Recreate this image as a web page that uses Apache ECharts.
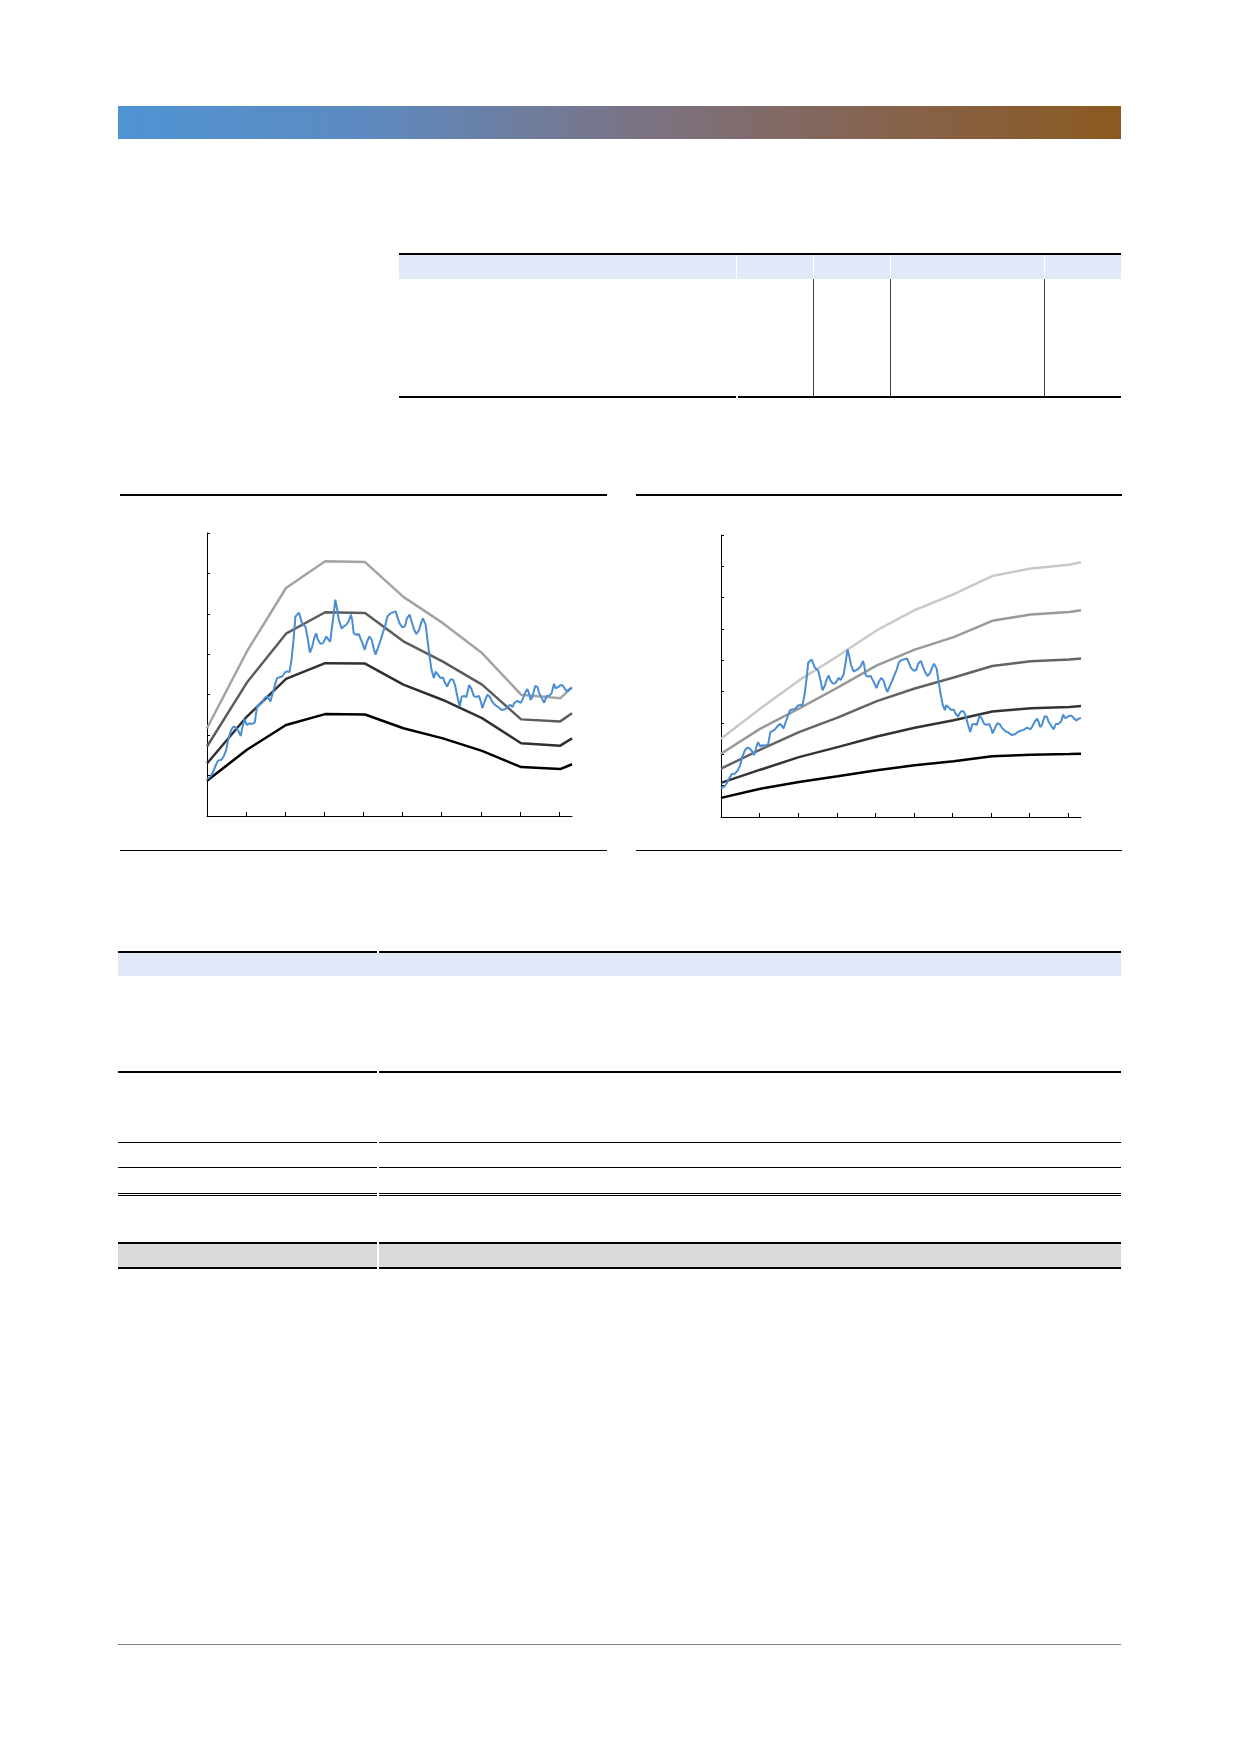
<!DOCTYPE html>
<html>
<head>
<meta charset="utf-8">
<script src="https://cdn.jsdelivr.net/npm/echarts@6.0.0/dist/echarts.min.js"></script>
<style>
  html, body { margin: 0; padding: 0; background: #fff; }
  .page { position: relative; width: 1240px; height: 1754px; overflow: hidden; }
  .box { position: absolute; }
</style>
</head>
<body>
<div class="page" id="page">
  <!-- header band -->
  <div class="box" style="left:118px;top:106px;width:1003px;height:33px;
       background:linear-gradient(to right,#4f93d3 0%,#5d8ac0 25%,#7b7384 52%,#86634f 76%,#8b5a20 100%)"></div>

  <!-- top table -->
  <div class="box" style="left:399px;top:253px;width:722px;height:2px;background:#000"></div>
  <div class="box" style="left:399px;top:255px;width:722px;height:24px;background:#e1e9f8"></div>
  <div class="box" style="left:736px;top:255px;width:1px;height:24px;background:#fff"></div>
  <div class="box" style="left:813px;top:255px;width:1px;height:24px;background:#fff"></div>
  <div class="box" style="left:890px;top:255px;width:1px;height:24px;background:#fff"></div>
  <div class="box" style="left:1044px;top:255px;width:1px;height:24px;background:#fff"></div>
  <div class="box" style="left:813px;top:279px;width:1px;height:117px;background:#404040"></div>
  <div class="box" style="left:890px;top:279px;width:1px;height:117px;background:#404040"></div>
  <div class="box" style="left:1044px;top:279px;width:1px;height:117px;background:#404040"></div>
  <div class="box" style="left:399px;top:396px;width:337px;height:2px;background:#000"></div>
  <div class="box" style="left:738px;top:396px;width:383px;height:2px;background:#000"></div>

  <!-- chart frames -->
  <div class="box" style="left:120px;top:494px;width:487px;height:2px;background:#000"></div>
  <div class="box" style="left:120px;top:850px;width:487px;height:1px;background:#000"></div>
  <div class="box" style="left:636px;top:494px;width:486px;height:2px;background:#000"></div>
  <div class="box" style="left:636px;top:850px;width:486px;height:1px;background:#000"></div>

  <!-- footer rule -->
  <div class="box" style="left:118px;top:1644px;width:1003px;height:1px;background:#808080"></div>

  <div id="chart" class="box" style="left:0;top:0;width:1240px;height:1754px"></div>
</div>

<script>
// x positions of the reference band vertices
const bandX = [0, 10.2, 20.2, 30.2, 40.4, 50.2, 60.3, 70.3, 80.3, 90.3, 93.3];

// left chart bands (top to bottom)
const leftBand1 = [21.7, 40.7, 56.4, 63.0, 62.8, 54.2, 47.7, 40.3, 30.0, 29.1, 31.9];
const leftBand2 = [17.2, 33.0, 45.1, 50.4, 50.2, 43.2, 38.2, 32.5, 23.9, 23.4, 25.4];
const leftBand3 = [13.0, 24.6, 33.9, 37.8, 37.7, 32.5, 28.7, 24.2, 18.0, 17.4, 19.2];
const leftBand4 = [8.7, 16.4, 22.5, 25.2, 25.1, 21.7, 19.2, 16.1, 12.1, 11.6, 12.8];

// right chart bands (top to bottom)
const rightBand1 = [25.0, 34.6, 43.6, 51.3, 59.6, 66.0, 71.1, 76.9, 79.3, 80.5, 81.3];
const rightBand2 = [20.2, 28.2, 34.6, 41.3, 48.4, 53.4, 57.4, 62.6, 64.6, 65.4, 66.0];
const rightBand3 = [15.4, 21.5, 27.1, 31.7, 37.0, 41.0, 44.5, 48.2, 49.7, 50.3, 50.6];
const rightBand4 = [10.9, 15.1, 19.1, 22.3, 25.7, 28.5, 30.9, 33.7, 34.7, 35.1, 35.4];
const rightBand5 = [6.1, 9.0, 11.2, 13.0, 14.9, 16.5, 17.8, 19.4, 19.9, 20.1, 20.2];

// measured series (same in both charts)
const blueX = [0, 0.85, 1.45, 2.1, 2.8, 3.7, 4.25, 4.9, 5.5, 6.2, 6.8, 7.4, 8.1, 8.6, 9.1, 9.6,
  10.2, 10.8, 11.5, 12.2, 12.8, 13.4, 14.1, 14.7, 15.4, 15.8, 16.2, 16.8, 17.5, 17.9, 18.5, 19.2,
  19.9, 20.5, 21.1, 21.6, 22.2, 22.6, 23.5, 24.3, 25.2, 25.8, 26.3, 26.9, 27.4, 27.9, 28.3, 29.0,
  29.6, 30.1, 30.5, 31.0, 31.5, 31.8, 32.3, 32.8, 33.3, 33.7, 34.4, 35.0, 35.6, 36.2, 36.8, 37.1,
  37.5, 38.1, 38.8, 39.2, 39.8, 40.3, 40.9, 41.5, 42.1, 42.6, 43.1, 43.8, 44.4, 44.9, 45.5, 46.1,
  46.7, 47.4, 48.2, 48.7, 49.2, 49.9, 50.6, 51.1, 51.8, 52.3, 52.9, 53.5, 54.2, 54.7, 55.2, 55.9,
  56.3, 56.9, 57.4, 58.0, 58.4, 59.1, 59.7, 60.3, 60.8, 61.4, 61.7, 62.3, 62.9, 63.4, 64.0, 64.6,
  65.1, 65.7, 66.3, 67.0, 67.6, 68.2, 68.8, 69.5, 70.0, 70.4, 71.1, 71.7, 72.3, 72.9, 73.6, 74.5,
  75.3, 76.2, 77.0, 77.6, 78.1, 78.5, 78.9, 79.3, 79.8, 80.2, 80.6, 81.3, 81.9, 82.3, 82.7, 83.2,
  83.9, 84.5, 84.9, 85.6, 86.2, 86.8, 87.4, 88.1, 88.7, 89.1, 89.8, 90.4, 91.0, 91.5, 92.1, 92.7, 93.3];
const blueY = [9.1, 9.7, 10.7, 12.2, 13.7, 13.9, 14.7, 16.3, 19.2, 21.3, 22.1, 21.9, 20.9, 19.8, 22.1, 23.9,
  22.5, 22.9, 22.8, 23.1, 27.1, 27.5, 28.1, 29.1, 29.7, 29.5, 28.3, 30.4, 32.8, 34.1, 34.3, 34.5,
  35.5, 35.8, 35.6, 38.6, 44.4, 49.3, 50.3, 47.7, 46.7, 43.6, 40.4, 41.9, 44.0, 45.2, 43.7, 42.6,
  42.7, 43.6, 44.4, 43.7, 43.1, 45.6, 49.3, 53.5, 51.0, 48.5, 46.4, 46.9, 47.3, 48.1, 49.8, 48.5,
  45.2, 44.8, 45.0, 44.0, 42.6, 41.1, 43.1, 44.4, 43.6, 41.5, 39.9, 41.9, 43.6, 45.2, 46.9, 49.3,
  50.0, 50.3, 50.6, 50.2, 47.7, 46.7, 46.9, 48.9, 49.8, 48.1, 46.2, 45.0, 46.0, 47.7, 48.9, 47.3,
  44.0, 39.4, 36.1, 34.1, 35.7, 34.9, 34.1, 34.3, 33.0, 32.0, 32.8, 33.8, 33.7, 32.4, 29.5, 27.1,
  29.5, 29.7, 29.4, 32.4, 31.4, 29.7, 29.4, 29.7, 28.3, 26.7, 28.7, 30.0, 29.5, 28.3, 27.5, 26.9,
  26.2, 26.4, 27.2, 27.5, 26.9, 27.9, 27.5, 28.5, 28.9, 28.0, 28.7, 30.4, 31.4, 30.4, 28.7, 29.5,
  32.2, 31.9, 30.4, 29.1, 28.0, 29.7, 29.7, 30.4, 32.7, 31.6, 31.9, 32.4, 32.2, 31.4, 30.8, 31.4, 31.6];

const xTicks = [10, 20, 30, 40, 50, 60, 70, 80, 90];

// table rules split by the first column gap
function rule(y, h, color) {
  const page = document.getElementById('page');
  [[118, 259], [379, 742]].forEach(function (seg) {
    const d = document.createElement('div');
    d.className = 'box';
    d.style.cssText = 'left:' + seg[0] + 'px;top:' + y + 'px;width:' + seg[1] + 'px;height:' + h + 'px;background:' + color;
    page.insertBefore(d, document.getElementById('chart'));
  });
}
rule(951, 2, '#000');
rule(1167, 1, '#000');
rule(1142, 1, '#000');
rule(1071, 2, '#000');
rule(1193, 1, '#000');
rule(1195, 1, '#000');
rule(1243, 24, '#d9d9d9');
rule(1242, 2, '#000');
rule(1267, 2, '#000');
(function () {
  const d = document.createElement('div');
  d.className = 'box';
  d.style.cssText = 'left:118px;top:953px;width:1003px;height:23px;background:#e1e9f8';
  document.getElementById('page').insertBefore(d, document.getElementById('chart'));
})();

function pairs(xs, ys) {
  return xs.map(function (x, i) { return [x, ys[i]]; });
}

function xAxis(gi) {
  return {
    type: 'value', gridIndex: gi, min: 0, max: 93.3, interval: 10,
    axisLine: { show: true, lineStyle: { color: '#000', width: 1 } },
    axisTick: { show: true, inside: true, length: 4, customValues: xTicks, lineStyle: { color: '#000' } },
    axisLabel: { show: false },
    splitLine: { show: false }
  };
}
function yAxis(gi, max) {
  return {
    type: 'value', gridIndex: gi, min: 0, max: max, interval: 10,
    axisLine: { show: true, lineStyle: { color: '#000', width: 1 } },
    axisTick: { show: true, inside: true, length: 3, lineStyle: { color: '#000' } },
    axisLabel: { show: false },
    splitLine: { show: false }
  };
}
function band(gi, ys, color) {
  return {
    type: 'line', xAxisIndex: gi, yAxisIndex: gi, data: pairs(bandX, ys),
    symbol: 'none', lineStyle: { color: color, width: 2.5 }, silent: true
  };
}
function blue(gi) {
  return {
    type: 'line', xAxisIndex: gi, yAxisIndex: gi, data: pairs(blueX, blueY),
    symbol: 'none', lineStyle: { color: '#4a8dd2', width: 2 }, silent: true
  };
}

var myChart = echarts.init(document.getElementById('chart'), null, { renderer: 'canvas' });
myChart.setOption({
  animation: false,
  grid: [
    { left: 207, top: 533, width: 365, height: 283, containLabel: false },
    { left: 721, top: 535, width: 360, height: 282, containLabel: false }
  ],
  xAxis: [xAxis(0), xAxis(1)],
  yAxis: [yAxis(0, 70), yAxis(1, 90)],
  series: [
    band(0, leftBand1, '#a3a3a3'),
    band(0, leftBand2, '#5c5c5c'),
    band(0, leftBand3, '#303030'),
    band(0, leftBand4, '#000000'),
    blue(0),
    band(1, rightBand1, '#c9c9c9'),
    band(1, rightBand2, '#999999'),
    band(1, rightBand3, '#636363'),
    band(1, rightBand4, '#333333'),
    band(1, rightBand5, '#000000'),
    blue(1)
  ]
});
</script>
</body>
</html>
